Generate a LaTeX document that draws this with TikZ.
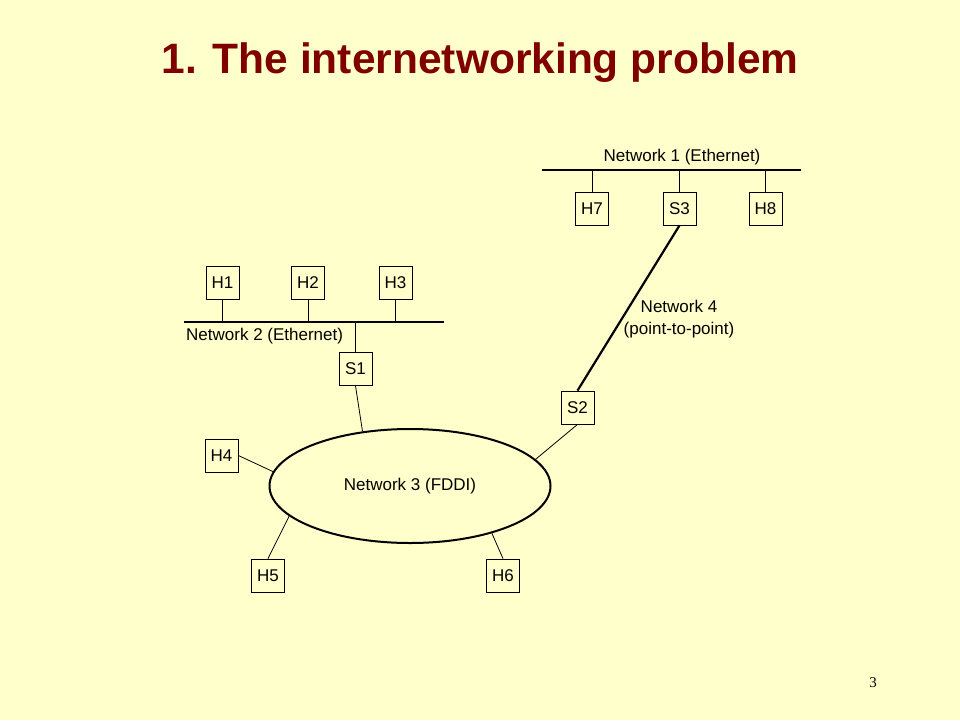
\documentclass[tikz,border=0pt]{standalone}
\usepackage{fontspec}
\setmainfont{Liberation Sans}
\newfontfamily\pagenumfont{Liberation Serif}
\usetikzlibrary{shapes.geometric}
\definecolor{slidebg}{RGB}{255,255,204}
\definecolor{titlered}{RGB}{128,0,0}
\begin{document}
\begin{tikzpicture}[x=1pt,y=-1pt,
	hostbox/.style={draw,line width=0.8pt,minimum width=33pt,minimum height=33pt,inner sep=0pt,font=\fontsize{17}{20}\selectfont},
	netlabel/.style={font=\fontsize{17}{22}\selectfont,inner sep=0pt},
	bus/.style={line width=2.6pt},
	stub/.style={line width=0.8pt}]
	\fill[slidebg](0,0)rectangle(960,720);
	\node[font=\bfseries\fontsize{42.5}{50}\selectfont,text=titlered](title)at(480,63){1. The internetworking problem};
	\coordinate(n1a)at(542,170);\coordinate(n1b)at(801,170);
	\coordinate(n2a)at(184,322);\coordinate(n2b)at(444,322);
	\draw[bus](n1a)--(n1b);
	\draw[bus](n2a)--(n2b);
	\node[netlabel](net1)at(682,157){Network 1 (Ethernet)};
	\node[netlabel,anchor=west](net2)at(186,336){Network 2 (Ethernet)};
	\node[netlabel,align=center](net4)at(679,319){Network 4\\(point-to-point)};
	\node[hostbox](H1)at(222.5,282.5){H1};
	\node[hostbox](H2)at(308,282.5){H2};
	\node[hostbox](H3)at(395.5,282.5){H3};
	\node[hostbox](S1)at(355.5,369){S1};
	\node[hostbox](H7)at(592,208.5){H7};
	\node[hostbox](S3)at(679.5,208.5){S3};
	\node[hostbox](H8)at(765.5,208.5){H8};
	\node[hostbox](S2)at(577.5,407.5){S2};
	\node[hostbox](H4)at(221.5,455.5){H4};
	\node[hostbox](H5)at(268,575.5){H5};
	\node[hostbox](H6)at(503,575.5){H6};
	\node[draw,ellipse,line width=2pt,minimum width=281pt,minimum height=114pt,inner sep=0pt,font=\fontsize{17}{20}\selectfont](fddi)at(410,486){Network 3 (FDDI)};
	\foreach \h in {H1,H2,H3,S1}{\draw[stub](\h)--(\h|-n2a);}
	\foreach \h in {H7,S3,H8}{\draw[stub](\h)--(\h|-n1a);}
	\draw[line width=2.2pt](S3.south)--(S2.north);
	\draw[stub](S1.south)--(fddi.131);
	\draw[stub](S2.south)--(fddi.12);
	\draw[stub](H4.east)--(fddi.174);
	\draw[stub](H5.north)--(fddi.194);
	\draw[stub](H6.north)--(fddi.330);
	\node[font=\pagenumfont\fontsize{15}{18}\selectfont](pagenum)at(873,683){3};
\end{tikzpicture}
\end{document}
